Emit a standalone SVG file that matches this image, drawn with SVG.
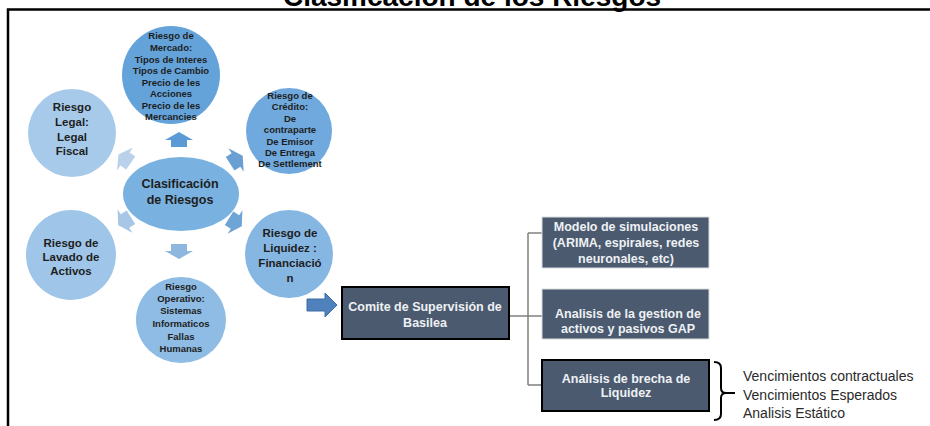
<svg xmlns="http://www.w3.org/2000/svg" width="930" height="426" viewBox="0 0 930 426">
<style>
.t{font-family:"Liberation Sans",Arial,sans-serif;font-weight:bold;fill:#1e1e1e;text-anchor:middle;dominant-baseline:central}
.s{font-size:9.5px}
.m{font-size:11.5px}
.l{font-size:12.5px}
.bx{fill:#4b5a6f}
.bt{font-family:"Liberation Sans",Arial,sans-serif;font-weight:bold;fill:#eef1f4;font-size:12.5px;text-anchor:middle;dominant-baseline:central}
.ln{fill:none;stroke:#808080;stroke-width:1.5}
.r{font-family:"Liberation Sans",Arial,sans-serif;font-size:14px;fill:#2a2a2a;dominant-baseline:central}
</style>
<defs>
<path id="ar" d="M-7,-8 L0,-8 L0,-14 L8,0 L0,14 L0,8 L-7,8 Z"/>
</defs>
<rect width="930" height="426" fill="#fff"/>
<text x="472" y="6" font-family="Liberation Sans,Arial,sans-serif" font-weight="bold" font-size="28" text-anchor="middle" fill="#000">Clasificación de los Riesgos</text>
<path d="M8,426 V9.5 H930" fill="none" stroke="#000" stroke-width="2.5"/>

<g id="arrows">
<use href="#ar" fill="#5b9bd5" transform="translate(179,140) rotate(-90)"/>
<use href="#ar" fill="#b9d1ea" transform="translate(125,159) rotate(-145)"/>
<use href="#ar" fill="#6a9fd3" transform="translate(236,160) rotate(-33)"/>
<use href="#ar" fill="#a8c7e6" transform="translate(125,221) rotate(148)"/>
<use href="#ar" fill="#8db7df" transform="translate(179,251) rotate(90)"/>
<use href="#ar" fill="#6fa4d7" transform="translate(235,222) rotate(32)"/>
<path d="M307,299 H325 V293 L337,305 L325,317 V311 H307 Z" fill="#4f81bd" stroke="#3d6da6" stroke-width="1"/>
</g>

<g id="connectors">
<path class="ln" d="M509,316 H542 M528,233 V385 M528,233 H542 M528,385 H542"/>
<path d="M714,362 Q721,362 721,368 V388 Q721,393 726,393 Q721,393 721,398 V414 Q721,420 714,420 M726,393 H735" fill="none" stroke="#000" stroke-width="2"/>
</g>

<g id="mercado">
<circle cx="171" cy="75" r="49" fill="#64a3da"/>
<text class="t s"><tspan x="171" y="35">Riesgo de</tspan><tspan x="171" y="47">Mercado:</tspan><tspan x="171" y="58.5">Tipos de Interes</tspan><tspan x="171" y="70">Tipos de Cambio</tspan><tspan x="171" y="81.5">Precio de les</tspan><tspan x="171" y="93">Acciones</tspan><tspan x="171" y="104.5">Precio de les</tspan><tspan x="171" y="116">Mercancies</tspan></text>
</g>

<g id="legal">
<circle cx="72" cy="133" r="44" fill="#a7caea"/>
<text class="t m"><tspan x="72" y="107">Riesgo</tspan><tspan x="72" y="122">Legal:</tspan><tspan x="72" y="137">Legal</tspan><tspan x="72" y="151">Fiscal</tspan></text>
</g>

<g id="credito">
<circle cx="289" cy="131" r="43" fill="#6fa9dd"/>
<text class="t s"><tspan x="290" y="95">Riesgo de</tspan><tspan x="290" y="106">Crédito:</tspan><tspan x="290" y="117.5">De</tspan><tspan x="290" y="129">contraparte</tspan><tspan x="290" y="140.5">De Emisor</tspan><tspan x="290" y="152">De Entrega</tspan><tspan x="290" y="163">De Settlement</tspan></text>
</g>

<g id="clasificacion">
<ellipse cx="181" cy="194" rx="58" ry="37" fill="#79b1e0"/>
<text class="t l"><tspan x="180" y="184">Clasificación</tspan><tspan x="180" y="200">de Riesgos</tspan></text>
</g>

<g id="lavado">
<circle cx="71" cy="255" r="45" fill="#9fc5e8"/>
<text class="t m"><tspan x="71" y="243">Riesgo de</tspan><tspan x="71" y="257">Lavado de</tspan><tspan x="71" y="271">Activos</tspan></text>
</g>

<g id="liquidez">
<circle cx="289" cy="254" r="44" fill="#86b6e2"/>
<text class="t m"><tspan x="290" y="233">Riesgo de</tspan><tspan x="290" y="248">Liquidez :</tspan><tspan x="290" y="263">Financiació</tspan><tspan x="290" y="278">n</tspan></text>
</g>

<g id="operativo">
<ellipse cx="181" cy="320" rx="45" ry="43" fill="#8ebce4"/>
<text class="t s"><tspan x="181" y="286">Riesgo</tspan><tspan x="181" y="298">Operativo:</tspan><tspan x="181" y="310">Sistemas</tspan><tspan x="181" y="323">Informaticos</tspan><tspan x="181" y="336">Fallas</tspan><tspan x="181" y="348">Humanas</tspan></text>
</g>

<g id="comite">
<rect class="bx" x="342" y="287" width="167" height="52" stroke="#000" stroke-width="2"/>
<text class="bt"><tspan x="425" y="307">Comite de Supervisión de</tspan><tspan x="425" y="323">Basilea</tspan></text>
</g>

<g id="modelo">
<rect class="bx" x="542" y="217" width="167" height="51" stroke="#d9dde2" stroke-width="1"/>
<text class="bt"><tspan x="626" y="227">Modelo de simulaciones</tspan><tspan x="626" y="243">(ARIMA, espirales, redes</tspan><tspan x="626" y="259">neuronales, etc)</tspan></text>
</g>

<g id="gap">
<rect class="bx" x="542" y="289" width="167" height="50" stroke="#d9dde2" stroke-width="1"/>
<text class="bt"><tspan x="628" y="314">Analisis de la gestion de</tspan><tspan x="628" y="329">activos y pasivos GAP</tspan></text>
</g>

<g id="brecha">
<rect class="bx" x="542" y="360" width="167" height="51" stroke="#000" stroke-width="2"/>
<text class="bt"><tspan x="626" y="379">Análisis de brecha de</tspan><tspan x="626" y="393">Liquidez</tspan></text>
</g>

<g id="vencimientos">
<text class="r"><tspan x="743" y="376">Vencimientos contractuales</tspan><tspan x="743" y="395">Vencimientos Esperados</tspan><tspan x="743" y="413">Analisis Estático</tspan></text>
</g>
</svg>
